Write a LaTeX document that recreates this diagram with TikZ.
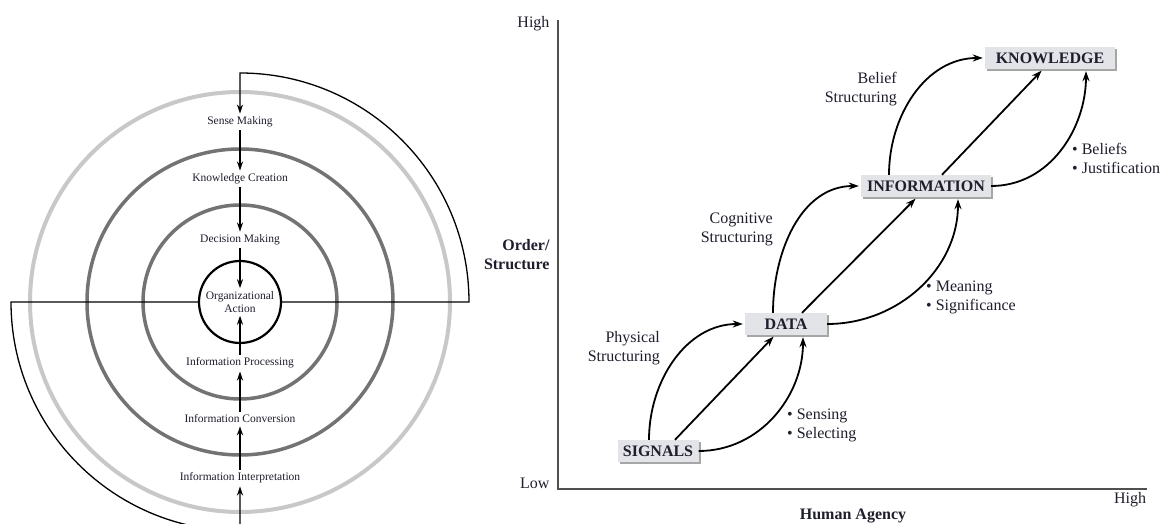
\documentclass[tikz,border=0pt]{standalone}
\usepackage{fontspec}
\setmainfont{Liberation Serif}
\usetikzlibrary{arrows.meta,shadows}
\definecolor{textc}{RGB}{30,30,45}
\definecolor{ringlight}{RGB}{200,200,200}
\definecolor{ringmid}{RGB}{115,115,115}
\definecolor{axisc}{RGB}{80,80,80}
\definecolor{boxfill}{RGB}{226,228,232}
\begin{document}
\begin{tikzpicture}[x=1pt,y=1pt,
  every node/.style={text=textc},
  lt/.style={font=\fontsize{11.5}{13}\selectfont, inner sep=3pt, align=center},
  larr/.style={line width=1.4pt, -{Stealth[length=9pt,width=6pt]}},
  fb/.style={line width=1.3pt, -{Stealth[length=9pt,width=6pt]}},
  ringA/.style={draw=ringlight, line width=4pt},
  ringB/.style={draw=ringmid, line width=3.5pt},
  axisline/.style={draw=axisc, line width=1.5pt},
  rt/.style={font=\fontsize{16}{19}\selectfont},
  rtb/.style={font=\bfseries\fontsize{16}{19}\selectfont},
  lab/.style={font=\fontsize{16}{19}\selectfont, inner sep=0pt},
  box/.style={fill=boxfill, font=\bfseries\fontsize{16}{19}\selectfont,
    minimum height=22pt, inner xsep=5pt, inner ysep=2pt,
    drop shadow={shadow xshift=2pt, shadow yshift=-2pt, fill=gray!70, opacity=1}},
  rarr/.style={line width=1.8pt, shorten >=2pt, -{Stealth[length=10pt,width=7pt]}}
]
\useasboundingbox (0,0) rectangle (1163,524);
\fill[white] (0,0) rectangle (1163,524);

% ---------- left: rings ----------
\draw[ringA] (240,222) circle[radius=210];
\draw[ringB] (240,222) circle[radius=153];
\draw[ringB] (240,222) circle[radius=97];

\node[lt] (sense) at (240,402) {Sense Making};
\node[lt] (know) at (240,345) {Knowledge Creation};
\node[lt] (dec) at (240,284) {Decision Making};
\node[draw=black, circle, line width=2.2pt, minimum size=82pt, inner sep=0pt] (orgc) at (240,222) {};
\node[lt] (org) at (240,222) {Organizational\\Action};
\node[lt] (proc) at (240,161) {Information Processing};
\node[lt] (conv) at (240,105) {Information Conversion};
\node[lt] (interp) at (240,46) {Information Interpretation};

\draw[larr] (sense) -- (know);
\draw[larr] (know) -- (dec);
\draw[larr] (dec) -- (org);
\draw[larr] (proc) -- (org);
\draw[larr] (conv) -- (proc);
\draw[larr] (interp) -- (conv);

\draw[fb] (orgc.east) -- (469,222) arc[start angle=0,end angle=90,radius=229] -- (sense.north);
\draw[fb] (orgc.west) -- (11,222) arc[start angle=180,end angle=270,radius=229] -- (interp.south);

% ---------- right: axes ----------
\draw[axisline] (558,504) -- (558,35) -- (1147,35);
\node[rt, anchor=east] (hiy) at (553,500) {High};
\node[rt, anchor=east] (loy) at (553,41) {Low};
\node[rtb, anchor=east, align=right] (os) at (553,269) {Order/\\Structure};
\node[rt] (hix) at (1130,24) {High};
\node[rtb] (ha) at (853,8) {Human Agency};

% ---------- boxes ----------
\node[box, minimum width=81pt] (sig) at (658,73) {SIGNALS};
\node[box, minimum width=82pt] (dat) at (786,200) {DATA};
\node[box, minimum width=130pt] (inf) at (926,338) {INFORMATION};
\node[box, minimum width=130pt] (kno) at (1050,466) {KNOWLEDGE};

\draw[rarr] ([xshift=-9pt]sig.north) to[out=90,in=180] (dat.west);
\draw[rarr] ([xshift=17pt]sig.north) -- ([xshift=-11pt]dat.south);
\draw[rarr] (sig.east) to[out=0,in=-90] ([xshift=17pt]dat.south);

\draw[rarr] ([xshift=-13pt]dat.north) to[out=90,in=180] (inf.west);
\draw[rarr] ([xshift=16pt]dat.north) -- ([xshift=-9pt]inf.south);
\draw[rarr] (dat.east) to[out=0,in=-90] ([xshift=32pt]inf.south);

\draw[rarr] ([xshift=-37pt]inf.north) to[out=90,in=180] (kno.west);
\draw[rarr] ([xshift=16pt]inf.north) -- ([xshift=-7pt]kno.south);
\draw[rarr] (inf.east) to[out=0,in=-90] ([xshift=36pt]kno.south);

% ---------- labels ----------
\node[lab, anchor=east, align=right] (l1) at (660,176) {Physical\\Structuring};
\node[lab, anchor=west, align=left] (l2) at (787,99) {• Sensing\\• Selecting};
\node[lab, anchor=east, align=right] (l3) at (773,294.5) {Cognitive\\Structuring};
\node[lab, anchor=west, align=left] (l4) at (926,226.5) {• Meaning\\• Significance};
\node[lab, anchor=east, align=right] (l5) at (897,434.5) {Belief\\Structuring};
\node[lab, anchor=west, align=left] (l6) at (1072,366) {• Beliefs\\• Justification};
\end{tikzpicture}
\end{document}
